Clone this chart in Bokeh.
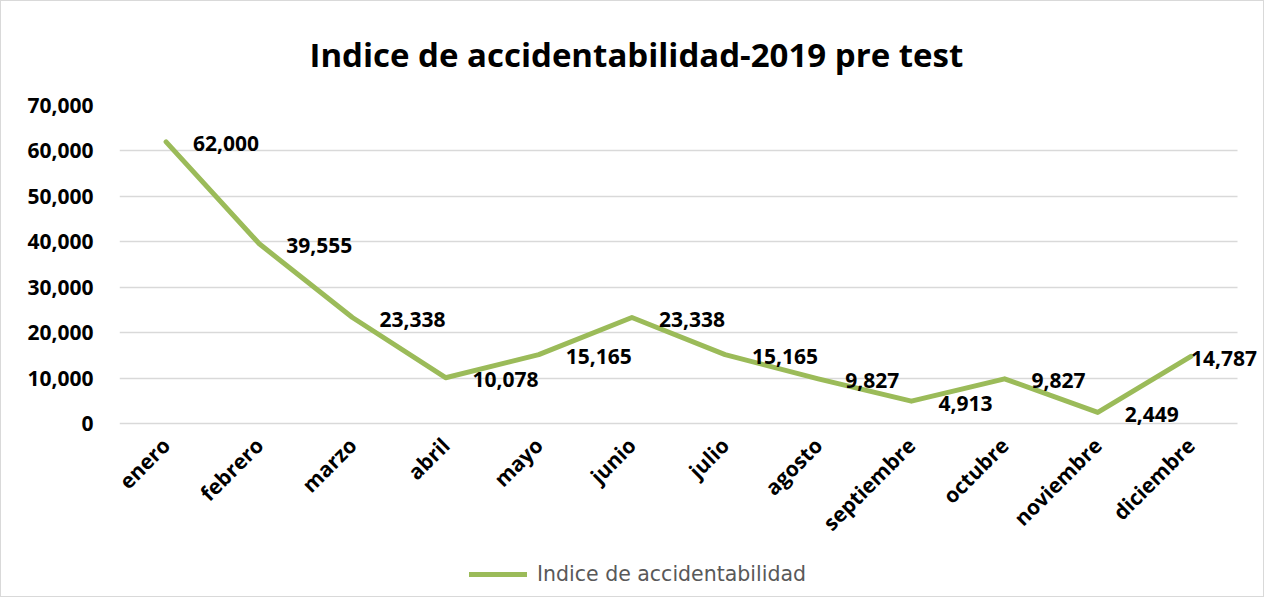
import math
from bokeh.plotting import figure
from bokeh.models import (ColumnDataSource, Range1d, Legend, LegendItem, NumeralTickFormatter,
                          Title, FixedTicker)
from bokeh.core.properties import value
from bokeh.embed import file_html
from bokeh.resources import INLINE

months = ["enero", "febrero", "marzo", "abril", "mayo", "junio", "julio",
          "agosto", "septiembre", "octubre", "noviembre", "diciembre"]
indice = [62000, 39555, 23338, 10078, 15165, 23338, 15165, 9827, 4913, 9827, 2449, 14787]
y_ticks = [0, 10000, 20000, 30000, 40000, 50000, 60000, 70000]
series_name = "Indice de accidentabilidad"
title_text = "Indice de accidentabilidad-2019 pre test"

FONT = "Open Sans"
GREEN = "#9BBB59"

# layout (pixels)
LEFT, TOP = 118, 103
PLOT_W, PLOT_H = 1118, 318          # area of the gridded chart
FRAME_W, FRAME_H = 1140, 491        # frame extends right/down for last label + legend
n = len(months)
xs = list(range(n))
unit = PLOT_W / n
x_end = -0.5 + FRAME_W / unit
y_top = y_ticks[-1]
y_min = -y_top * (FRAME_H - PLOT_H) / PLOT_H

labels = [f"{v:,}" for v in indice]
offsets = [27] * (n - 1) + [0]
src = ColumnDataSource(dict(x=xs, v=indice, lab=labels, xo=offsets))

p = figure(x_range=Range1d(-0.5, x_end), y_range=Range1d(y_min, y_top),
           frame_width=FRAME_W, frame_height=FRAME_H,
           output_backend="svg", toolbar_location=None,
           min_border_left=LEFT, min_border_right=4, min_border_top=TOP, min_border_bottom=0)
p.outline_line_color = None
p.background_fill_color = "white"
p.border_fill_color = "white"
p.styles = {"border": "1px solid #D9D9D9"}

t = Title(text=title_text, align="left", offset=190, text_font=FONT, text_font_size="33px",
          text_font_style="bold", text_color="#000000", standoff=57)
p.add_layout(t, "above")

r = p.line("x", "v", source=src, line_color=GREEN, line_width=5, line_join="round", line_cap="round")
p.text("x", "v", text="lab", source=src, x_offset="xo", y_offset=2,
       text_font=value(FONT), text_font_size="21px", text_font_style="bold",
       text_color="#000000", text_baseline="middle", text_align="left")

p.xgrid.grid_line_color = None
g = p.ygrid[0]
g.grid_line_color = "#D9D9D9"
g.grid_line_width = 1.5
if "cross_bounds" in g.properties():
    g.cross_bounds = (-0.5, n - 0.5)

p.yaxis.ticker = FixedTicker(ticks=y_ticks)
p.yaxis.formatter = NumeralTickFormatter(format="0,0")
p.xaxis.ticker = FixedTicker(ticks=xs)
p.xaxis.major_label_overrides = {i: m for i, m in zip(xs, months)}
p.xaxis.fixed_location = 0
for ax in (p.xaxis[0], p.yaxis[0]):
    ax.axis_line_color = None
    ax.major_tick_line_color = None
    ax.minor_tick_line_color = None
    ax.major_label_text_font = FONT
    ax.major_label_text_font_size = "21px"
    ax.major_label_text_font_style = "bold"
    ax.major_label_text_color = "#000000"
p.yaxis.major_label_standoff = 20
p.xaxis.major_label_orientation = math.pi / 4
p.xaxis.major_label_standoff = 12

legend = Legend(items=[LegendItem(label=series_name, renderers=[r])],
                orientation="horizontal", location=(350, 10),
                label_text_font="DejaVu Sans", label_text_font_size="20.5px",
                label_text_color="#595959", glyph_width=58, glyph_height=10,
                label_standoff=10, border_line_color=None, background_fill_alpha=0,
                margin=0, padding=6)
p.add_layout(legend, "center")

open("out.html", "w").write(file_html(p, INLINE))
